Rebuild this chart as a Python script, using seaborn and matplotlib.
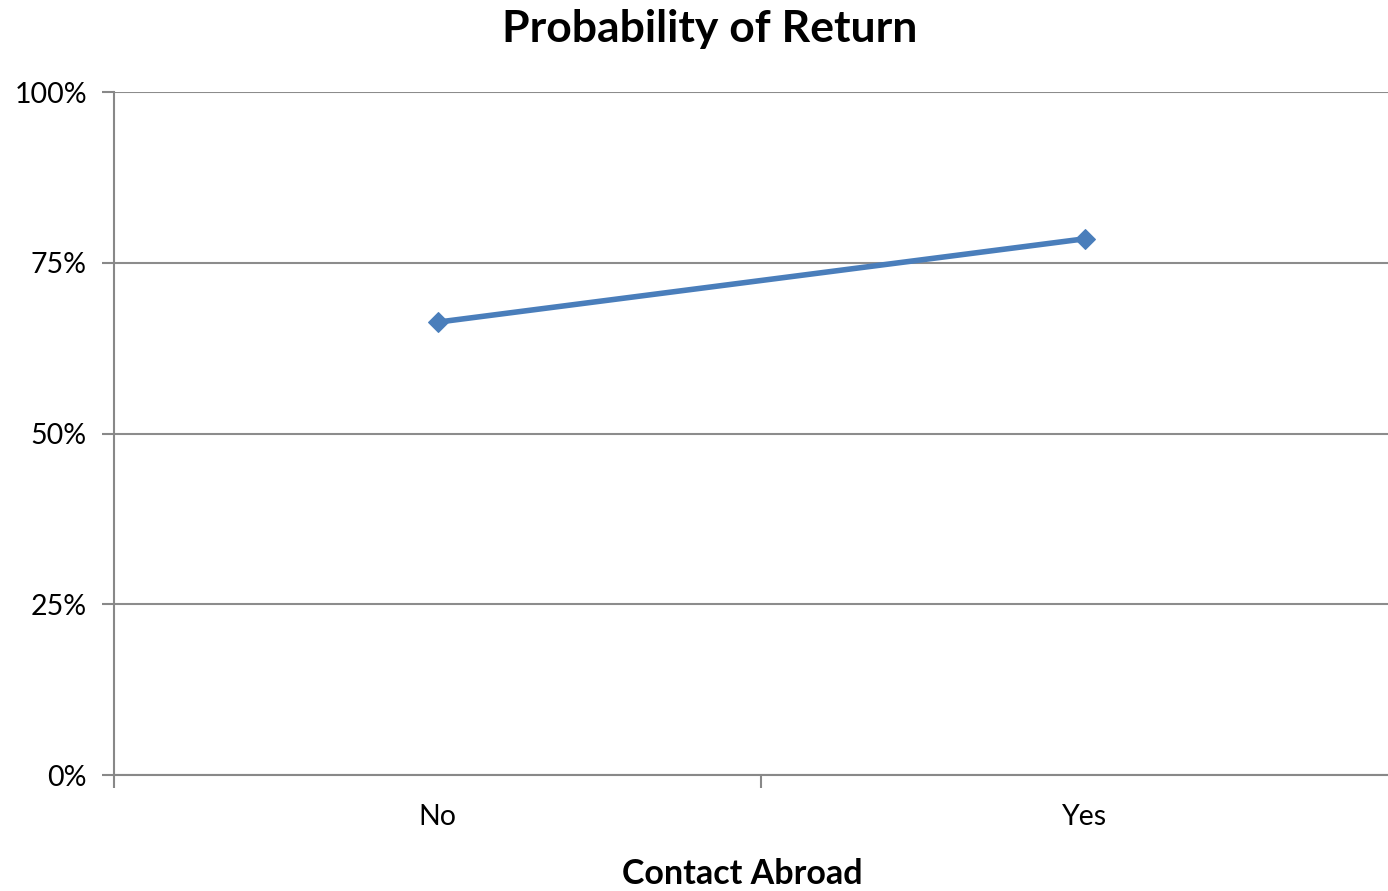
import matplotlib
matplotlib.use("Agg")
import matplotlib.pyplot as plt
import seaborn as sns
import pandas as pd
from matplotlib.ticker import FixedLocator

categories = ["No", "Yes"]
probability = [66.3, 78.5]
y_ticks = [0, 25, 50, 75, 100]
y_tick_labels = ["0%", "25%", "50%", "75%", "100%"]

sns.set_style("white")
plt.rcParams['font.family'] = ['Lato', 'DejaVu Sans']
plt.rcParams['text.color'] = 'black'
plt.rcParams['xtick.color'] = 'black'
plt.rcParams['ytick.color'] = 'black'

df = pd.DataFrame({"contact": categories, "prob": probability})

fig = plt.figure(figsize=(13.88, 8.91), dpi=100)
ax = fig.add_axes([114 / 1388, 1 - 775 / 891, 1 - 114 / 1388, (775 - 92) / 891])

sns.lineplot(data=df, x="contact", y="prob", ax=ax, color="#4a7ebb", linewidth=4,
             marker="D", markersize=10, markeredgecolor="#4a7ebb", sort=False)

ax.set_ylim(0, 100)
ax.set_xlim(-0.5, 1.5 - 20 / 647)
ax.set_yticks(y_ticks)
ax.set_yticklabels(y_tick_labels, fontsize=20.5)
ax.set_xticks([0, 1])
ax.set_xticklabels(categories, fontsize=20.5)
ax.xaxis.set_minor_locator(FixedLocator([-0.5, 0.5]))
ax.tick_params(axis="x", which="major", length=0, pad=21, bottom=True)
ax.tick_params(axis="x", which="minor", length=9, width=1.5, color="#888888",
               direction="out", bottom=True)
ax.tick_params(axis="y", length=9, width=1.5, color="#888888", labelcolor="black",
               direction="out", pad=10.5, left=True)
ax.yaxis.grid(True, color="#8c8c8c", linewidth=1.5)
ax.set_axisbelow(True)
for side in ["top", "right"]:
    ax.spines[side].set_visible(False)
for side in ["left", "bottom"]:
    ax.spines[side].set_color("#888888")
    ax.spines[side].set_linewidth(1.5)
ax.set_xlabel("")
ax.set_ylabel("")

fig.text(710 / 1388, 1 - 29 / 891, "Probability of Return", ha="center", va="center",
         fontsize=32, fontweight="bold", color="black")
fig.text(742 / 1388, 1 - 874 / 891, "Contact Abroad", ha="center", va="center",
         fontsize=24.5, fontweight="bold", color="black")

fig.savefig("out.png", dpi=100)
